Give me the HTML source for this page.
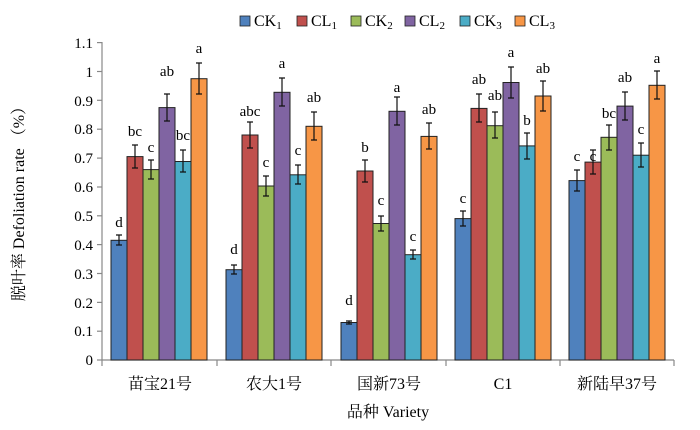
<!DOCTYPE html>
<html><head><meta charset="utf-8"><style>
html,body{margin:0;padding:0;background:#fff;}
svg{display:block;font-family:"Liberation Serif","Noto Serif CJK SC",serif;}
</style></head><body>
<svg width="700" height="430" viewBox="0 0 700 430" xmlns="http://www.w3.org/2000/svg">
<!-- legend -->
<g font-size="16" fill="#000">
<rect x="240" y="16" width="10" height="10" fill="#4f81bd" stroke="#222" stroke-width="0.8"/><text x="254" y="26">CK<tspan font-size="11" dy="3">1</tspan></text>
<rect x="297" y="16" width="10" height="10" fill="#c0504d" stroke="#222" stroke-width="0.8"/><text x="311" y="26">CL<tspan font-size="11" dy="3">1</tspan></text>
<rect x="351" y="16" width="10" height="10" fill="#9bbb59" stroke="#222" stroke-width="0.8"/><text x="365" y="26">CK<tspan font-size="11" dy="3">2</tspan></text>
<rect x="405" y="16" width="10" height="10" fill="#8064a2" stroke="#222" stroke-width="0.8"/><text x="419" y="26">CL<tspan font-size="11" dy="3">2</tspan></text>
<rect x="460" y="16" width="10" height="10" fill="#4bacc6" stroke="#222" stroke-width="0.8"/><text x="474" y="26">CK<tspan font-size="11" dy="3">3</tspan></text>
<rect x="515" y="16" width="10" height="10" fill="#f79646" stroke="#222" stroke-width="0.8"/><text x="529" y="26">CL<tspan font-size="11" dy="3">3</tspan></text>
</g>
<!-- axes -->
<g stroke="#888" stroke-width="1.2">
<line x1="102" y1="42" x2="102" y2="360"/>
<line x1="102" y1="360" x2="674" y2="360"/>
<line x1="97" y1="42.6" x2="102" y2="42.6"/><line x1="97" y1="71.5" x2="102" y2="71.5"/><line x1="97" y1="100.3" x2="102" y2="100.3"/><line x1="97" y1="129.2" x2="102" y2="129.2"/><line x1="97" y1="158.1" x2="102" y2="158.1"/><line x1="97" y1="187" x2="102" y2="187"/><line x1="97" y1="215.8" x2="102" y2="215.8"/><line x1="97" y1="244.6" x2="102" y2="244.6"/><line x1="97" y1="273.5" x2="102" y2="273.5"/><line x1="97" y1="302.4" x2="102" y2="302.4"/><line x1="97" y1="331.2" x2="102" y2="331.2"/><line x1="97" y1="360" x2="102" y2="360"/>
<line x1="102" y1="360" x2="102" y2="366"/><line x1="217" y1="360" x2="217" y2="366"/><line x1="331" y1="360" x2="331" y2="366"/><line x1="446" y1="360" x2="446" y2="366"/><line x1="560" y1="360" x2="560" y2="366"/><line x1="674" y1="360" x2="674" y2="366"/>
</g>
<g font-size="15" text-anchor="end" fill="#000">
<text x="93" y="48">1.1</text><text x="93" y="77">1</text><text x="93" y="106">0.9</text><text x="93" y="134">0.8</text><text x="93" y="163">0.7</text><text x="93" y="192">0.6</text><text x="93" y="221">0.5</text><text x="93" y="250">0.4</text><text x="93" y="279">0.3</text><text x="93" y="308">0.2</text><text x="93" y="336">0.1</text><text x="93" y="365">0</text>
</g>
<g stroke="#222" stroke-width="1">
<!-- G1 -->
<rect x="111" y="240.3" width="16" height="119.7" fill="#4f81bd"/>
<rect x="127" y="156.6" width="16" height="203.4" fill="#c0504d"/>
<rect x="143" y="169.6" width="16" height="190.4" fill="#9bbb59"/>
<rect x="159" y="107.6" width="16" height="252.4" fill="#8064a2"/>
<rect x="175" y="161.5" width="16" height="198.5" fill="#4bacc6"/>
<rect x="191" y="78.7" width="16" height="281.3" fill="#f79646"/>
<!-- G2 -->
<rect x="226" y="269.7" width="16" height="90.3" fill="#4f81bd"/>
<rect x="242" y="135" width="16" height="225" fill="#c0504d"/>
<rect x="258" y="186" width="16" height="174" fill="#9bbb59"/>
<rect x="274" y="92.3" width="16" height="267.7" fill="#8064a2"/>
<rect x="290" y="174.8" width="16" height="185.2" fill="#4bacc6"/>
<rect x="306" y="126.3" width="16" height="233.7" fill="#f79646"/>
<!-- G3 -->
<rect x="341" y="322.5" width="16" height="37.5" fill="#4f81bd"/>
<rect x="357" y="171" width="16" height="189" fill="#c0504d"/>
<rect x="373" y="223.5" width="16" height="136.5" fill="#9bbb59"/>
<rect x="389" y="111.3" width="16" height="248.7" fill="#8064a2"/>
<rect x="405" y="254.7" width="16" height="105.3" fill="#4bacc6"/>
<rect x="421" y="136.4" width="16" height="223.6" fill="#f79646"/>
<!-- G4 -->
<rect x="455" y="218.6" width="16" height="141.4" fill="#4f81bd"/>
<rect x="471" y="108.4" width="16" height="251.6" fill="#c0504d"/>
<rect x="487" y="125.7" width="16" height="234.3" fill="#9bbb59"/>
<rect x="503" y="82.5" width="16" height="277.5" fill="#8064a2"/>
<rect x="519" y="145.9" width="16" height="214.1" fill="#4bacc6"/>
<rect x="535" y="96" width="16" height="264" fill="#f79646"/>
<!-- G5 -->
<rect x="569" y="180.6" width="16" height="179.4" fill="#4f81bd"/>
<rect x="585" y="162.1" width="16" height="197.9" fill="#c0504d"/>
<rect x="601" y="137.3" width="16" height="222.7" fill="#9bbb59"/>
<rect x="617" y="106.1" width="16" height="253.9" fill="#8064a2"/>
<rect x="633" y="155.2" width="16" height="204.8" fill="#4bacc6"/>
<rect x="649" y="85.3" width="16" height="274.7" fill="#f79646"/>
</g>
<!-- error bars -->
<g stroke="#111" stroke-width="1.2" fill="none">
<path d="M119 235v10M116 235h6M116 245h6"/>
<path d="M135 145v23M132 145h6M132 168h6"/>
<path d="M151 160v19M148 160h6M148 179h6"/>
<path d="M167 94v27M164 94h6M164 121h6"/>
<path d="M183 150v22M180 150h6M180 172h6"/>
<path d="M199 63v31M196 63h6M196 94h6"/>
<path d="M234 265v9M231 265h6M231 274h6"/>
<path d="M250 122v26M247 122h6M247 148h6"/>
<path d="M266 176v20M263 176h6M263 196h6"/>
<path d="M282 78v28M279 78h6M279 106h6"/>
<path d="M298 165v19M295 165h6M295 184h6"/>
<path d="M314 112v28M311 112h6M311 140h6"/>
<path d="M349 321v3M346 321h6M346 324h6"/>
<path d="M365 160v22M362 160h6M362 182h6"/>
<path d="M381 216v15M378 216h6M378 231h6"/>
<path d="M397 97v28M394 97h6M394 125h6"/>
<path d="M413 250v9M410 250h6M410 259h6"/>
<path d="M429 123v26M426 123h6M426 149h6"/>
<path d="M463 211v15M460 211h6M460 226h6"/>
<path d="M479 94v28M476 94h6M476 122h6"/>
<path d="M495 112v26M492 112h6M492 138h6"/>
<path d="M511 67v31M508 67h6M508 98h6"/>
<path d="M527 133v26M524 133h6M524 159h6"/>
<path d="M543 81v30M540 81h6M540 111h6"/>
<path d="M577 170v21M574 170h6M574 191h6"/>
<path d="M593 150v24M590 150h6M590 174h6"/>
<path d="M609 125v25M606 125h6M606 150h6"/>
<path d="M625 92v28M622 92h6M622 120h6"/>
<path d="M641 143v24M638 143h6M638 167h6"/>
<path d="M657 71v28M654 71h6M654 99h6"/>
</g>
<!-- significance letters -->
<g font-size="15" text-anchor="middle" fill="#000">
<text x="119" y="227">d</text><text x="135" y="136">bc</text><text x="151" y="152">c</text><text x="167" y="76">ab</text><text x="183" y="140">bc</text><text x="199" y="53">a</text>
<text x="234" y="254">d</text><text x="250" y="116">abc</text><text x="266" y="167">c</text><text x="282" y="68">a</text><text x="298" y="155">c</text><text x="314" y="102">ab</text>
<text x="349" y="305">d</text><text x="365" y="152">b</text><text x="381" y="205">c</text><text x="397" y="92">a</text><text x="413" y="241">c</text><text x="429" y="114">ab</text>
<text x="463" y="203">c</text><text x="479" y="84">ab</text><text x="495" y="100">ab</text><text x="511" y="57">a</text><text x="527" y="125">b</text><text x="543" y="73">ab</text>
<text x="577" y="161">c</text><text x="593" y="161">c</text><text x="609" y="118">bc</text><text x="625" y="82">ab</text><text x="641" y="134">c</text><text x="657" y="63">a</text>
</g>
<!-- category labels -->
<g font-size="16" text-anchor="middle" fill="#000">
<text x="160" y="389">苗宝21号</text>
<text x="274" y="389">农大1号</text>
<text x="389" y="389">国新73号</text>
<text x="503" y="389">C1</text>
<text x="617" y="389">新陆早37号</text>
<text x="388" y="417">品种 Variety</text>
<text transform="translate(24,200) rotate(-90)">脱叶率 Defoliation rate （%）</text>
</g>
</svg>
</body></html>
